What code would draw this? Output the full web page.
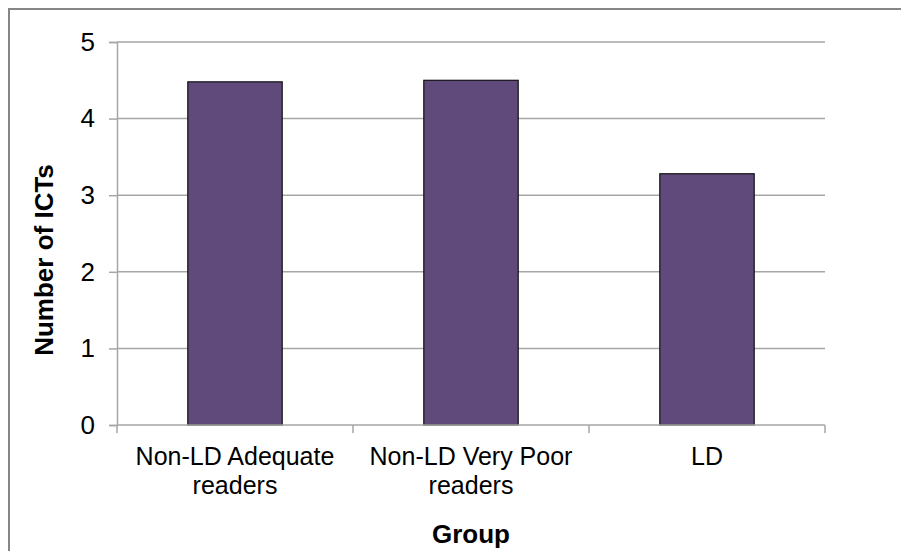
<!DOCTYPE html>
<html>
<head>
<meta charset="utf-8">
<script src="https://cdn.jsdelivr.net/npm/d3@7"></script>
<style>
  html, body { margin: 0; padding: 0; background: #fff; }
</style>
</head>
<body>
<div id="chart"></div>
<script>
// Chart data
const categories = [
  ["Non-LD Adequate", "readers"],
  ["Non-LD Very Poor", "readers"],
  ["LD"],
];
const values = [4.48, 4.5, 3.28];
const yTicks = [0, 1, 2, 3, 4, 5];

const width = 901;
const height = 551;
const marginLeft = 117;
const marginRight = 76;
const marginTop = 42;
const marginBottom = 126;

const font = "'Liberation Sans', Arial, sans-serif";
const gridColor = "#a6a6a6";

const labels = categories.map((c) => c.join(" "));

const x = d3
  .scaleBand()
  .domain(labels)
  .range([marginLeft, width - marginRight])
  .padding(0);

const y = d3
  .scaleLinear()
  .domain([0, 5])
  .range([height - marginBottom, marginTop]);

const svg = d3
  .create("svg")
  .attr("width", width)
  .attr("height", height)
  .attr("viewBox", [0, 0, width, height]);

// Outer chart border (right/bottom fall outside the picture)
svg
  .append("rect")
  .attr("x", 9)
  .attr("y", 9)
  .attr("width", width + 20)
  .attr("height", height + 20)
  .attr("fill", "white")
  .attr("stroke", "#868686")
  .attr("stroke-width", 2);

// Horizontal gridlines
svg
  .append("g")
  .selectAll("line")
  .data(yTicks.filter((d) => d > 0))
  .join("line")
  .attr("x1", marginLeft)
  .attr("x2", width - marginRight)
  .attr("y1", (d) => y(d))
  .attr("y2", (d) => y(d))
  .attr("stroke", gridColor)
  .attr("stroke-width", 1.5);

// Bars
svg
  .append("g")
  .selectAll("rect")
  .data(values)
  .join("rect")
  .attr("x", (d, i) => x(labels[i]) + x.bandwidth() * 0.3)
  .attr("y", (d) => y(d))
  .attr("width", x.bandwidth() * 0.4)
  .attr("height", (d) => y(0) - y(d))
  .attr("fill", "#604a7b")
  .attr("stroke", "#111")
  .attr("stroke-width", 1.2);

// Y axis
svg
  .append("g")
  .attr("transform", `translate(${marginLeft},0)`)
  .call(
    d3
      .axisLeft(y)
      .tickValues(yTicks)
      .tickFormat(d3.format("d"))
      .tickSize(8)
      .tickPadding(14),
  )
  .call((g) => g.select(".domain").attr("stroke", gridColor).attr("stroke-width", 1.5))
  .call((g) => g.selectAll(".tick line").attr("stroke", gridColor).attr("stroke-width", 1.5))
  .call((g) =>
    g
      .selectAll(".tick text")
      .attr("fill", "#000")
      .attr("font-size", "26px")
      .attr("font-family", font),
  );

// X axis: ticks at band boundaries
const xAxisG = svg
  .append("g")
  .attr("transform", `translate(0,${y(0)})`);

xAxisG
  .append("line")
  .attr("x1", marginLeft)
  .attr("x2", width - marginRight)
  .attr("stroke", gridColor)
  .attr("stroke-width", 1.5);

xAxisG
  .selectAll("line.tick")
  .data(labels.concat([null]))
  .join("line")
  .attr("class", "tick")
  .attr("x1", (d) => (d === null ? width - marginRight : x(d)))
  .attr("x2", (d) => (d === null ? width - marginRight : x(d)))
  .attr("y1", 0)
  .attr("y2", 8)
  .attr("stroke", gridColor)
  .attr("stroke-width", 1.5);

// Category labels (one text element per line)
categories.forEach((lines, i) => {
  xAxisG
    .append("g")
    .selectAll("text")
    .data(lines)
    .join("text")
    .attr("x", x(labels[i]) + x.bandwidth() / 2)
    .attr("y", (d, j) => 40 + j * 29)
    .attr("text-anchor", "middle")
    .attr("font-size", "25px")
    .attr("font-family", font)
    .attr("fill", "#000")
    .text((d) => d);
});

// Axis titles
svg
  .append("text")
  .attr("x", (marginLeft + width - marginRight) / 2)
  .attr("y", 543)
  .attr("text-anchor", "middle")
  .attr("font-size", "26px")
  .attr("font-weight", "700")
  .attr("font-family", font)
  .text("Group");

svg
  .append("text")
  .attr("transform", "translate(53,260) rotate(-90)")
  .attr("text-anchor", "middle")
  .attr("font-size", "26px")
  .attr("font-weight", "700")
  .attr("font-family", font)
  .text("Number of ICTs");

document.getElementById("chart").appendChild(svg.node());
</script>
</body>
</html>
